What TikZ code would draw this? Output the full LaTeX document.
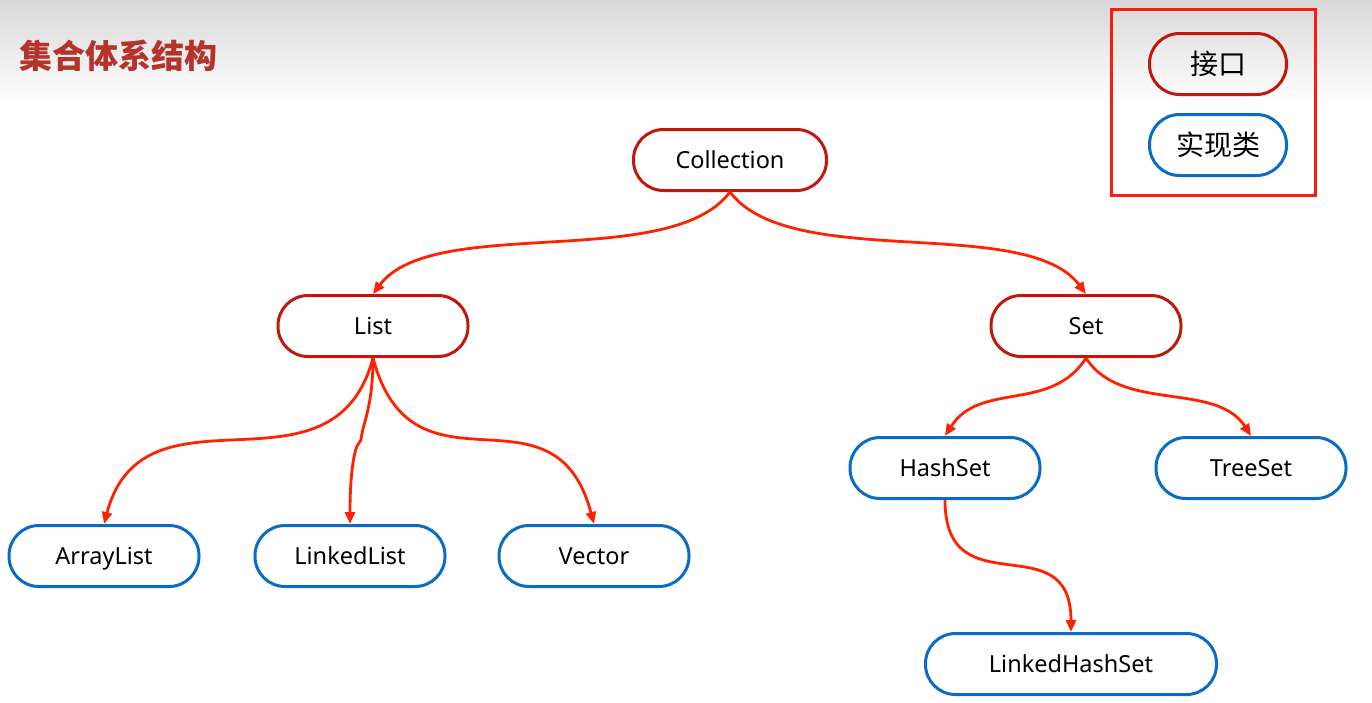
\documentclass[tikz,border=0pt]{standalone}
\usepackage{fontspec}
\setmainfont{Noto Sans}
\newfontfamily\cjk{Noto Sans CJK SC}
\usetikzlibrary{arrows.meta}
\definecolor{ifc}{HTML}{C0180E}
\definecolor{imc}{HTML}{0A6CC4}
\definecolor{arc}{HTML}{FF2200}
\definecolor{lgc}{HTML}{FF1A0A}
\definecolor{ttl}{HTML}{B5332A}
\begin{document}
\begin{tikzpicture}[x=1pt,y=-1pt,
  box/.style={rectangle, rounded corners=30pt, line width=3pt, minimum width=190pt, minimum height=61pt, inner sep=0pt, text=black, text height=21pt, text depth=4.2pt, font=\fontsize{23.5}{26}\selectfont},
  ifbox/.style={box, draw=ifc},
  imbox/.style={box, draw=imc},
  lgbox/.style={minimum width=137pt, text height=24.5pt, text depth=3.5pt, font=\cjk\fontsize{28}{32}\selectfont},
  arr/.style={draw=arc, line width=2.8pt, -{Triangle[length=12pt,width=10pt]}}]
\useasboundingbox (0,0) rectangle (1372,702);
\shade[top color=gray!30, bottom color=white] (0,0) rectangle (1372,105);
\node[anchor=west, text=ttl, inner sep=0pt, font=\cjk\bfseries\fontsize{33}{36}\selectfont] (title) at (19,56) {集合体系结构};
% legend
\node[draw=lgc, line width=3pt, minimum width=204pt, minimum height=186pt, inner sep=0pt] (legend) at (1213,102) {};
\node[ifbox, lgbox] (lgif) at (1218,64) {接口};
\node[imbox, lgbox] (lgim) at (1218,145) {实现类};
% interfaces
\node[ifbox, minimum width=193pt] (coll) at (730,160) {Collection};
\node[ifbox] (list) at (373,326) {List};
\node[ifbox] (set) at (1086,326) {Set};
% implementations
\node[imbox] (al) at (104,556) {ArrayList};
\node[imbox] (ll) at (350,556) {LinkedList};
\node[imbox] (vec) at (594,556) {Vector};
\node[imbox] (hs) at (945,468) {HashSet};
\node[imbox] (ts) at (1251,468) {TreeSet};
\node[imbox, minimum width=291pt] (lhs) at (1071,664) {LinkedHashSet};
% connectors
\draw[arr] (coll.south) .. controls +(-60,80) and +(60,-80) .. (list.north);
\draw[arr] (coll.south) .. controls +(60,80) and +(-60,-80) .. (set.north);
\draw[arr] (list.south) .. controls +(-40,150) and +(40,-150) .. (al.north);
\draw[arr] (list.south) .. controls +(40,150) and +(-40,-150) .. (vec.north);
\coordinate (k1) at (361,440);
\coordinate (k2) at (357,446);
\draw[arr] (list.south) .. controls +(0,50) and +(1,-15) .. (k1) -- (k2) .. controls +(-4,10) and +(0,-45) .. (ll.north);
\draw[arr] (set.south) .. controls +(-35,55) and +(35,-55) .. (hs.north);
\draw[arr] (set.south) .. controls +(35,55) and +(-35,-55) .. (ts.north);
\draw[arr] (hs.south) .. controls +(0,110) and +(0,-110) .. (lhs.north);
\end{tikzpicture}
\end{document}
